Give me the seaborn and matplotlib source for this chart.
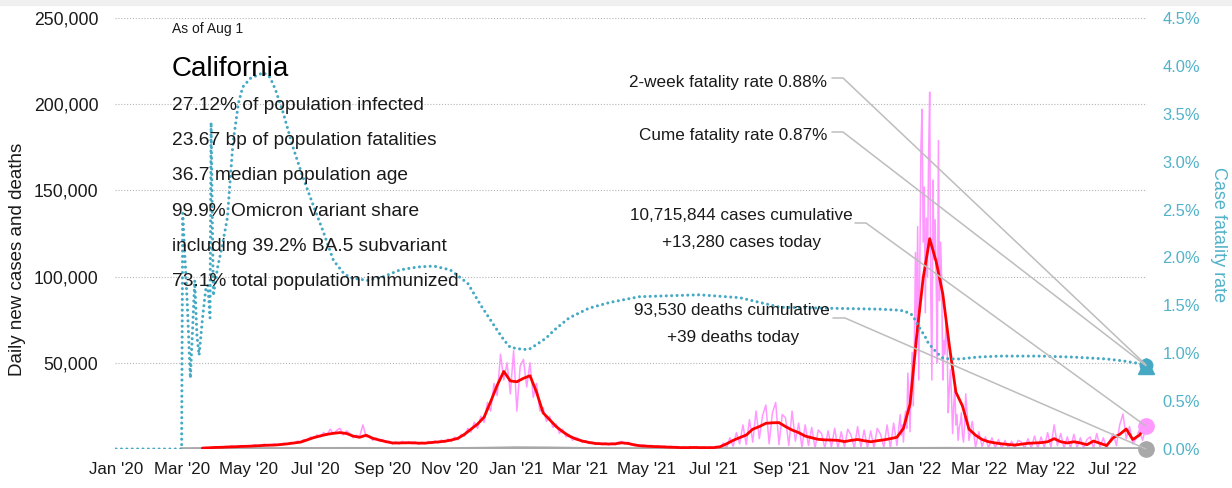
import numpy as np
import pandas as pd
import matplotlib
matplotlib.use("Agg")
import matplotlib.pyplot as plt
import matplotlib.dates as mdates
from matplotlib.lines import Line2D
from matplotlib.patches import Rectangle
import seaborn as sns

# 7-day average of new cases (thousands), one value every 6 days from 2020-03-02
red_start = "2020-03-02"
red_vals = [None, None, None, 0.5, 0.7, 0.9, 1.0, 1.2, 1.3, 1.5,
            1.6, 1.8, 2.0, 2.2, 2.3, 2.6, 3.0, 3.5, 4.0, 5.3,
            6.6, 7.6, 8.5, 9.1, 9.5, 9.0, 7.5, 6.8, 8.0, 6.2,
            5.2, 4.3, 3.5, 3.5, 3.6, 3.6, 3.4, 3.4, 3.8, 4.1,
            4.5, 5.2, 6.2, 8.5, 11.5, 14.5, 18.5, 27.5, 37.0, 45.0,
            39.5, 39.0, 41.0, 42.5, 33.0, 21.0, 17.0, 13.0, 10.0, 7.5,
            5.8, 4.6, 3.8, 3.2, 3.0, 2.9, 3.0, 3.6, 3.2, 2.3,
            1.8, 1.6, 1.4, 1.3, 1.1, 1.0, 0.8, 0.8, 0.9, 0.8,
            0.8, 0.8, 1.3, 3.0, 5.0, 6.6, 8.1, 11.5, 13.0, 14.9,
            15.2, 15.3, 13.0, 11.0, 9.5, 7.5, 6.5, 5.6, 5.3, 5.2,
            5.0, 4.3, 5.0, 5.5, 4.8, 4.2, 4.8, 5.3, 6.0, 6.8,
            12.0, 26.0, 65.0, 99.0, 122.0, 108.5, 90.0, 60.0, 33.0, 25.0,
            11.5, 8.0, 5.5, 4.2, 3.5, 3.0, 2.6, 2.3, 2.8, 3.3,
            3.5, 3.7, 4.2, 6.0, 4.2, 3.5, 4.2, 3.5, 2.5, 4.6,
            3.3, 2.0, 6.5, 8.5, 11.6, 5.5, 8.0, 13.28]

# daily new cases (thousands): every 3 days from 2020-03-05 ...
pink_a_start = "2020-03-05"
pink_a = [0.1, 0.1, 0.2, 0.3, 0.4, 0.6, 0.9, 0.7, 1.1, 1.2,
          1.3, 0.8, 1.5, 1.0, 1.9, 1.2, 1.4, 2.0, 1.1, 1.8,
          1.6, 2.5, 1.7, 2.2, 2.9, 1.8, 2.4, 3.0, 2.1, 2.9,
          3.4, 2.6, 3.9, 3.2, 4.6, 4.1, 5.5, 4.8, 7.0, 6.2,
          8.2, 7.0, 9.6, 8.0, 11.5, 8.6, 10.8, 12.0, 8.2, 10.5,
          9.0, 6.5, 8.0, 7.2, 14.0, 7.0, 7.5, 5.0, 6.4, 4.6,
          5.5, 3.6, 4.6, 3.0, 4.2, 2.9, 4.5, 3.1, 4.3, 3.0,
          4.2, 2.8, 4.0, 3.0, 4.4, 3.2, 4.8, 3.4, 5.2, 3.8,
          5.8, 4.3, 6.9, 5.3, 8.5, 7.4, 12.0, 9.8, 15.5, 12.0,
          19.0, 15.5, 27.0, 22.0, 38.0, 31.0, 55.0, 40.0, 50.0, 32.0,
          57.0, 22.0, 48.0, 52.0, 36.0, 50.0, 30.0, 38.0, 22.0, 24.0,
          16.0, 19.0, 12.5, 14.5, 9.0, 11.5, 7.0, 8.5, 5.0, 6.8,
          5.8, 3.8, 4.9, 3.1, 4.1, 2.6, 3.7, 2.5, 3.6, 2.4,
          3.5, 2.4, 4.0, 4.4, 2.8, 4.0, 2.2, 3.0, 1.5, 2.3,
          2.4, 1.0, 2.2, 0.8, 2.0, 0.7, 1.8, 0.6, 1.6, 0.5,
          1.5, 0.3, 1.4, 0.2, 1.5, 0.4, 1.4, 0.2, 1.3, 0.3,
          1.4, 0.0, 1.6, 0.0, 3.5, 0.5, 6.5, 1.5, 9.5, 3.0,
          14.0, 2.5, 17.0, 4.0, 22.0, 6.0, 19.5, 25.5, 3.0, 21.0,
          27.0, 2.5, 20.0, 18.0, 2.0, 22.0, 4.5, 15.0, 1.0, 14.0,
          2.0, 12.5, 0.5, 11.0, 9.0, 0.5, 10.5, 1.0, 12.0, 0.5,
          10.0, 1.0, 11.5, 8.0, 0.5, 13.0, 1.0, 11.0, 0.5, 10.5,
          0.5, 12.0, 8.5, 1.0, 14.0, 0.5, 15.0, 2.0, 20.0]
# ... daily through the Omicron wave from 2021-12-20 ...
pink_b_start = "2021-12-20"
pink_b = [8, 14, 4, 18, 22, 12, 44, 30, 10, 38,
          56, 25, 60, 114, 70, 129, 40, 110, 175, 197,
          120, 152, 79, 134, 100, 170, 207, 90, 40, 156,
          110, 133, 95, 50, 179, 86, 120, 98, 40, 63,
          55, 75, 60, 21, 35, 46, 30, 9, 25, 36,
          14, 20, 5, 12, 15, 21, 8, 4, 14]
# ... then every 3 days from 2022-02-17
pink_c_start = "2022-02-17"
pink_c = [32.0, 5.0,
          16.0, 1.0, 10.0, 1.5, 7.0, 0.5, 6.5, 0.5, 5.5, 0.5,
          5.0, 0.5, 4.5, 0.5, 5.0, 4.0, 0.5, 6.0, 0.5, 7.5,
          0.5, 7.0, 1.0, 9.5, 1.0, 14.0, 2.0, 9.0, 0.5, 7.0,
          0.5, 8.5, 1.0, 6.5, 0.5, 5.5, 7.0, 0.5, 9.0, 1.0,
          6.5, 0.5, 5.0, 9.0, 2.0, 14.0, 20.3, 6.0, 13.0, 3.0,
          6.0, 11.0, 5.0, 13.28]

# daily deaths, monthly from 2020-03-01
death_start = "2020-03-01"
death_vals = [10, 80, 75, 65, 110, 140, 95, 55, 50, 220,
              520, 400, 150, 50, 30, 20, 20, 60, 100, 70,
              40, 45, 120, 200, 100, 40, 20, 25, 35, 39]

# case fatality rate (%)
cfr_dates = ["2020-01-01", "2020-03-01", "2020-03-02", "2020-03-06", "2020-03-09",
             "2020-03-11", "2020-03-13", "2020-03-15", "2020-03-17", "2020-03-20",
             "2020-03-23", "2020-03-25", "2020-03-27", "2020-03-28", "2020-03-30",
             "2020-04-03", "2020-04-07", "2020-04-12", "2020-04-14", "2020-04-17",
             "2020-04-22", "2020-04-26", "2020-05-03", "2020-05-15", "2020-05-21",
             "2020-05-26", "2020-06-02", "2020-06-11", "2020-06-20", "2020-06-30",
             "2020-07-09", "2020-07-18", "2020-07-27", "2020-08-02", "2020-08-18",
             "2020-09-02", "2020-09-17", "2020-10-03", "2020-10-18", "2020-11-02",
             "2020-11-18", "2020-11-30", "2020-12-15", "2020-12-21", "2020-12-27",
             "2021-01-02", "2021-01-07", "2021-01-13", "2021-01-20", "2021-01-29",
             "2021-02-05", "2021-02-19", "2021-03-09", "2021-03-28", "2021-04-24",
             "2021-06-18", "2021-07-25", "2021-08-31", "2021-10-13", "2021-11-30",
             "2021-12-17", "2021-12-23", "2021-12-30", "2022-01-01", "2022-01-06",
             "2022-01-11", "2022-01-13", "2022-01-18", "2022-01-22", "2022-01-27",
             "2022-02-02", "2022-02-12", "2022-02-28", "2022-03-20", "2022-04-26",
             "2022-05-26", "2022-06-26", "2022-07-11", "2022-07-27", "2022-08-01"]
cfr_vals = [0, 0, 2.46, 1.56, 0.74, 1.24, 1.76, 1.19, 0.98, 1.35,
            1.66, 1.71, 1.37, 3.41, 1.60, 1.90, 2.11, 2.42, 2.74, 3.19,
            3.61, 3.78, 3.87, 3.93, 3.88, 3.75, 3.51, 3.15, 2.84, 2.53,
            2.26, 1.97, 1.84, 1.79, 1.76, 1.80, 1.87, 1.90, 1.91, 1.87,
            1.73, 1.50, 1.24, 1.14, 1.06, 1.05, 1.04, 1.04, 1.09, 1.16,
            1.24, 1.37, 1.47, 1.53, 1.59, 1.61, 1.58, 1.48, 1.47, 1.46,
            1.45, 1.44, 1.40, 1.36, 1.26, 1.17, 1.12, 1.05, 1.00, 0.95,
            0.94, 0.94, 0.96, 0.97, 0.97, 0.96, 0.94, 0.92, 0.89, 0.88]

end_date = "2022-08-01"
cfr_2week = 0.88
cfr_cume = 0.87
cases_today = 13.28
deaths_today = 0.039

x_tick_labels = ["Jan '20", "Mar '20", "May '20", "Jul '20", "Sep '20", "Nov '20",
                 "Jan '21", "Mar '21", "May '21", "Jul '21", "Sep '21", "Nov '21",
                 "Jan '22", "Mar '22", "May '22", "Jul '22"]
y_tick_labels = ["", "50,000", "100,000", "150,000", "200,000", "250,000"]
y2_tick_labels = ["0.0%", "0.5%", "1.0%", "1.5%", "2.0%", "2.5%", "3.0%", "3.5%", "4.0%", "4.5%"]

info_lines = ["27.12% of population infected",
              "23.67 bp of population fatalities",
              "36.7 median population age",
              "99.9% Omicron variant share",
              "including 39.2% BA.5 subvariant",
              "73.1% total population immunized"]

RED = "#ff0000"
PINK = "#ff99ff"
GRAY = "#a8a8a8"
TEAL = "#45a9c4"
TEAL_TXT = "#52b2c9"
TXT = "#1a1a1a"
LINE = "#bdbdbd"

sns.set_theme(style="white")
plt.rcParams["font.family"] = ["Liberation Sans", "DejaVu Sans"]

W, H = 1232, 488
fig = plt.figure(figsize=(W / 100, H / 100), dpi=100)
fig.patches.append(Rectangle((0, 1 - 5 / H), 1, 5 / H, transform=fig.transFigure,
                             color="#f0f0f0", zorder=0))

ax = fig.add_axes([115 / W, 39 / H, 1032 / W, 431 / H])

red_dates = pd.date_range(red_start, periods=len(red_vals), freq="6D")
pink_dates = (pd.date_range(pink_a_start, periods=len(pink_a), freq="3D")
              .append(pd.date_range(pink_b_start, periods=len(pink_b), freq="D"))
              .append(pd.date_range(pink_c_start, periods=len(pink_c), freq="3D")))
pink_vals = np.array(pink_a + pink_b + pink_c, dtype=float)
death_dates = pd.date_range(death_start, periods=len(death_vals), freq="MS")

sns.lineplot(x=pink_dates, y=pink_vals, ax=ax, color=PINK, lw=1.1)
sns.lineplot(x=death_dates, y=np.array(death_vals) / 1000, ax=ax, color=GRAY, lw=2.6)
sns.lineplot(x=red_dates, y=np.array(red_vals, dtype=float), ax=ax, color=RED, lw=2.0)

end = pd.Timestamp(end_date)
ax.plot([end], [cases_today], "o", ms=11, color=PINK, clip_on=False, zorder=6)
ax.plot([end], [deaths_today], "o", ms=11, color=GRAY, clip_on=False, zorder=6)

ax.set_xlim(pd.Timestamp("2019-12-31"), pd.Timestamp("2022-08-02"))
ax.set_ylim(0, 250)
ax.set_yticks(range(0, 251, 50))
ax.set_yticklabels(y_tick_labels)
ax.set_xticks(pd.date_range("2020-01-01", periods=len(x_tick_labels), freq="2MS"))
ax.set_xticklabels(x_tick_labels)
ax.tick_params(axis="y", length=0, pad=12, labelsize=12.7, labelcolor=TXT)
ax.tick_params(axis="x", length=0, pad=9.5, labelsize=12.2, labelcolor=TXT)
ax.yaxis.grid(True, color="#b5b5b5", lw=0.8, ls=(0, (1, 1.6)))
ax.xaxis.grid(False)
ax.set_axisbelow(True)
ax.set_xlabel("")
ax.set_ylabel("")
for s in ax.spines.values():
    s.set_visible(False)

ax2 = ax.twinx()
sns.lineplot(x=pd.to_datetime(cfr_dates), y=np.array(cfr_vals), ax=ax2, color=TEAL,
             lw=2.2, linestyle=(0, (0.01, 1.75)), dash_capstyle="round")
ax2.plot([end], [cfr_cume], marker="^", ms=12, color=TEAL, clip_on=False, zorder=6)
ax2.plot([end], [cfr_2week], marker="o", ms=9, color=TEAL, clip_on=False, zorder=6)
ax2.set_ylim(0, 4.5)
ax2.set_yticks(np.arange(0, 4.51, 0.5))
ax2.set_yticklabels(y2_tick_labels)
ax2.tick_params(axis="y", length=0, pad=11, labelsize=11.9, labelcolor=TEAL_TXT)
ax2.set_xlim(pd.Timestamp("2019-12-31"), pd.Timestamp("2022-08-02"))
ax2.set_ylabel("")
ax2.grid(False)
for s in ax2.spines.values():
    s.set_visible(False)


def fx(x):
    return x / W


def fy(y):
    return 1 - y / H


fig.text(fx(18), fy(259), "Daily new cases and deaths", rotation=90, ha="center",
         va="center", fontsize=13.5, color=TXT)
fig.text(fx(1219), fy(235), "Case fatality rate", rotation=270, ha="center",
         va="center", fontsize=13, color=TEAL_TXT)

# info block
fig.text(fx(172), fy(33), "As of Aug 1", fontsize=10, color=TXT, va="baseline")
fig.text(fx(172), fy(76), "California", fontsize=20, color="#000000", va="baseline")
for i, s in enumerate(info_lines):
    fig.text(fx(172), fy(110 + 35.2 * i), s, fontsize=13.8, color=TXT, va="baseline")

# end-point annotations
ann = dict(fontsize=12.3, color=TXT, va="baseline")
fig.text(fx(827), fy(87), "2-week fatality rate 0.88%", ha="right", **ann)
fig.text(fx(827), fy(140), "Cume fatality rate 0.87%", ha="right", **ann)
fig.text(fx(741), fy(220), "10,715,844 cases cumulative", ha="center", **ann)
fig.text(fx(742), fy(247), "+13,280 cases today", ha="center", **ann)
fig.text(fx(732), fy(315), "93,530 deaths cumulative", ha="center", **ann)
fig.text(fx(733), fy(342), "+39 deaths today", ha="center", **ann)

inv = fig.transFigure.inverted()
endn = mdates.date2num(end)


def leader(x0, x1, y, axis, val):
    px, py = inv.transform(axis.transData.transform((endn, val)))
    fig.add_artist(Line2D([fx(x0), fx(x1), px], [fy(y), fy(y), py],
                          transform=fig.transFigure, color=LINE, lw=1.1, zorder=7))


leader(832, 843, 78, ax2, cfr_2week)
leader(832, 843, 132, ax2, cfr_cume)
leader(855, 866, 223, ax, cases_today)
leader(833, 845, 318, ax, deaths_today)

fig.savefig("out.png", dpi=100)
